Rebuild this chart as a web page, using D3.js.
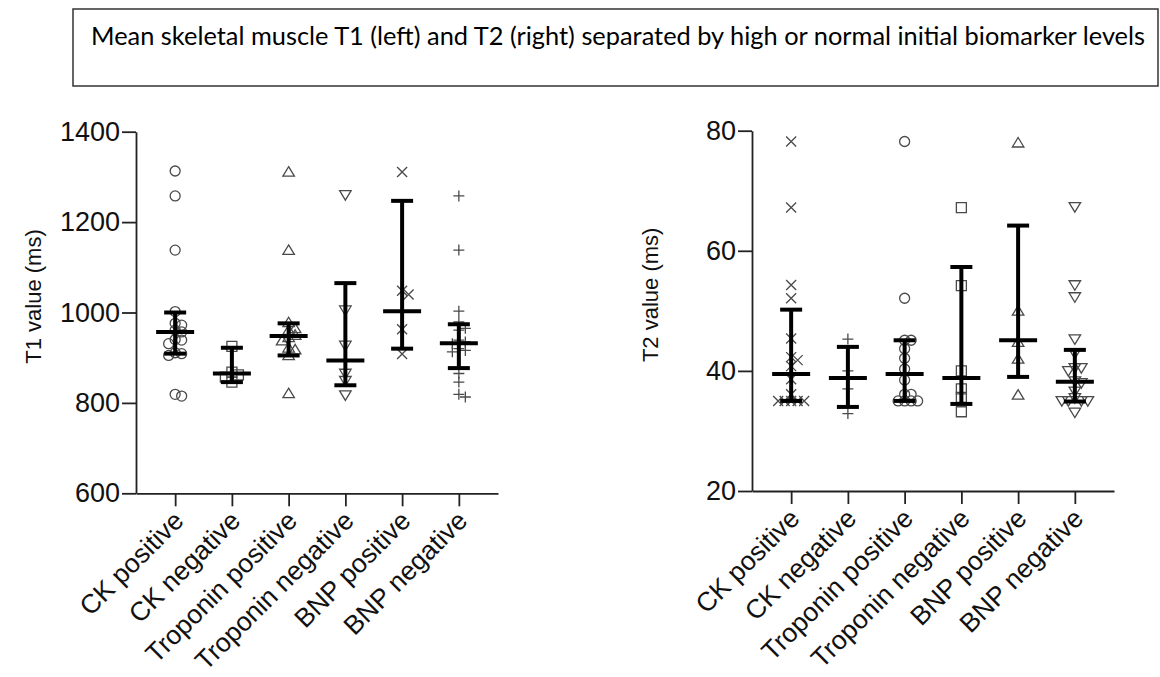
<!DOCTYPE html>
<html>
<head>
<meta charset="utf-8">
<script src="https://cdn.jsdelivr.net/npm/d3@7/dist/d3.min.js"></script>
<style>
  html, body { margin: 0; padding: 0; background: #fff; }
  svg { display: block; }
</style>
</head>
<body>
<svg id="chart" width="1160" height="677"></svg>
<script>
// Group labels shared by both panels
const categories = ["CK positive", "CK negative", "Troponin positive", "Troponin negative", "BNP positive", "BNP negative"];

// T1 (ms) per patient, by group
const t1CkPositive = [1313, 1258, 1138, 1002, 976, 972, 961, 957, 940, 939, 931, 911, 909, 905, 819, 815];
const t1CkNegative = [925, 868, 862, 857, 846];
const t1TroponinPositive = [1311, 1138, 978, 965, 961, 950, 945, 938, 922, 918, 905, 821];
const t1TroponinNegative = [1260, 1005, 927, 865, 849, 817];
const t1BnpPositive = [1311, 1048, 1040, 963, 908];
const t1BnpNegative = [1258, 1138, 1003, 979, 965, 961, 939, 935, 931, 920, 916, 913, 865, 846, 819, 813];

// T1 summary line and whiskers
const t1Center = [957, 865, 948, 894, 1003, 932];
const t1Low = [909, 846, 905, 839, 920, 877];
const t1High = [1000, 922, 976, 1065, 1247, 974];
const t1Ticks = [600, 800, 1000, 1200, 1400];

// T2 (ms) per patient, by group
const t2CkPositive = [78.2, 67.2, 54.3, 52.1, 45.4, 42.3, 41.8, 40.8, 38.6, 36.1, 35, 35, 35, 35, 35];
const t2CkNegative = [45.3, 40, 38.8, 37, 32.9];
const t2TroponinPositive = [78.2, 52.1, 45.1, 45.1, 43.7, 42.1, 40.3, 38.5, 36.1, 36.1, 35, 35, 35, 35];
const t2TroponinNegative = [67.2, 54.2, 40, 37, 35.6, 33.2];
const t2BnpPositive = [78, 50, 44.8, 42, 36];
const t2BnpNegative = [67.3, 54.3, 52.3, 45.3, 42.9, 40.5, 40.5, 40, 38.3, 38, 36.6, 35.5, 35, 35, 35, 35, 33.1];

// T2 summary line and whiskers
const t2Center = [39.5, 38.8, 39.5, 38.8, 45.1, 38.2];
const t2Low = [35, 34, 35, 34.5, 39, 34.9];
const t2High = [50.2, 44, 45.1, 57.3, 64.2, 43.5];
const t2Ticks = [20, 40, 60, 80];

const titleText = "Mean skeletal muscle T1 (left) and T2 (right) separated by high or normal initial biomarker levels";

// ---- marker shapes (size = half width in px) ----
const shapes = {
  circle: { draw(ctx, s) { ctx.moveTo(s, 0); ctx.arc(0, 0, s, 0, 2 * Math.PI); } },
  square: { draw(ctx, s) { ctx.rect(-s, -s, 2 * s, 2 * s); } },
  triangleUp: { draw(ctx, s) {
    const w = s * 1.15, h = s * 1.9;
    ctx.moveTo(0, -h * 0.55); ctx.lineTo(w, h * 0.45); ctx.lineTo(-w, h * 0.45); ctx.closePath(); } },
  triangleDown: { draw(ctx, s) {
    const w = s * 1.15, h = s * 1.9;
    ctx.moveTo(0, h * 0.55); ctx.lineTo(w, -h * 0.45); ctx.lineTo(-w, -h * 0.45); ctx.closePath(); } },
  times: { draw(ctx, s) {
    ctx.moveTo(-s, -s); ctx.lineTo(s, s); ctx.moveTo(s, -s); ctx.lineTo(-s, s); } },
  plus: { draw(ctx, s) {
    const a = s * 1.1;
    ctx.moveTo(-a, 0); ctx.lineTo(a, 0); ctx.moveTo(0, -a); ctx.lineTo(0, a); } }
};

const svg = d3.select("#chart");
const FONT = "'Liberation Sans', Arial, Helvetica, sans-serif";

// ---- title box ----
svg.append("rect")
  .attr("x", 73).attr("y", 9).attr("width", 1085).attr("height", 77)
  .attr("fill", "none").attr("stroke", "#333").attr("stroke-width", 1.5);
svg.append("text")
  .attr("x", 91).attr("y", 45)
  .attr("font-family", "Lato, 'Open Sans', sans-serif")
  .attr("font-size", 25)
  .attr("fill", "#000")
  .attr("textLength", 1054)
  .attr("lengthAdjust", "spacingAndGlyphs")
  .text(titleText);

// Horizontal dodge so that overlapping markers spread out sideways
function swarmOffsets(pixelYs, step, minDist) {
  const order = d3.range(pixelYs.length).sort((a, b) => pixelYs[a] - pixelYs[b]);
  const placed = [];
  const offsets = new Array(pixelYs.length).fill(0);
  order.forEach(i => {
    const py = pixelYs[i];
    for (let k = 0; k < 40; k++) {
      const off = k === 0 ? 0 : (k % 2 ? 1 : -1) * Math.ceil(k / 2) * step;
      const hit = placed.some(p => Math.hypot(off - p.dx, py - p.y) < minDist);
      if (!hit) { offsets[i] = off; placed.push({ dx: off, y: py }); break; }
    }
  });
  return offsets;
}

function drawPanel(cfg) {
  const g = svg.append("g");
  const x = d3.scalePoint().domain(categories).range([cfg.x0, cfg.x1]).padding(0.69);
  const y = d3.scaleLinear().domain(cfg.domain).range([cfg.yBottom, cfg.yTop]);

  // y axis
  const yAxis = g.append("g")
    .attr("transform", `translate(${cfg.x0},0)`)
    .call(d3.axisLeft(y).tickValues(cfg.ticks).tickSize(14).tickSizeOuter(0).tickPadding(2).tickFormat(d3.format("d")));
  // x axis
  const xAxis = g.append("g")
    .attr("transform", `translate(0,${cfg.yBottom})`)
    .call(d3.axisBottom(x).tickSize(13).tickSizeOuter(0).tickFormat(""));

  [yAxis, xAxis].forEach(a => {
    a.selectAll("path.domain").attr("stroke", "#222").attr("stroke-width", 1.8);
    a.selectAll(".tick line").attr("stroke", "#222").attr("stroke-width", 1.8);
  });
  yAxis.selectAll(".tick text")
    .attr("font-family", FONT).attr("font-size", 27).attr("fill", "#111");

  // rotated category labels
  g.selectAll("text.cat").data(categories).join("text")
    .attr("class", "cat")
    .attr("transform", d => `translate(${x(d) + 10},${cfg.yBottom + 29}) rotate(-45)`)
    .attr("text-anchor", "end")
    .attr("font-family", FONT).attr("font-size", 26.5).attr("fill", "#111")
    .text(d => d);

  // y axis title
  g.append("text")
    .attr("transform", `translate(${cfg.labelX},${(cfg.yTop + cfg.yBottom) / 2 - 16}) rotate(-90)`)
    .attr("text-anchor", "middle")
    .attr("font-family", FONT).attr("font-size", 22).attr("fill", "#111")
    .text(cfg.yTitle);

  // individual values
  cfg.series.forEach((vals, i) => {
    const cx = x(categories[i]);
    const pys = vals.map(v => y(v));
    const offs = swarmOffsets(pys, 6.5, 6.5);
    const sym = d3.symbol().type(shapes[cfg.shapes[i]]).size(5);
    g.append("g").selectAll("path").data(vals).join("path")
      .attr("transform", (v, j) => `translate(${cx + offs[j]},${pys[j]})`)
      .attr("d", sym)
      .attr("fill", "none")
      .attr("stroke", "#4a4a4a")
      .attr("stroke-width", 1.3);
  });

  // centre line with whiskers
  categories.forEach((c, i) => {
    const cx = x(c);
    const eg = g.append("g").attr("stroke", "#000").attr("stroke-width", 4).attr("fill", "none");
    eg.append("line").attr("x1", cx).attr("x2", cx).attr("y1", y(cfg.high[i])).attr("y2", y(cfg.low[i]));
    eg.append("line").attr("x1", cx - 11).attr("x2", cx + 11).attr("y1", y(cfg.high[i])).attr("y2", y(cfg.high[i]));
    eg.append("line").attr("x1", cx - 11).attr("x2", cx + 11).attr("y1", y(cfg.low[i])).attr("y2", y(cfg.low[i]));
    eg.append("line").attr("x1", cx - 19).attr("x2", cx + 19).attr("y1", y(cfg.center[i])).attr("y2", y(cfg.center[i]));
  });
}

drawPanel({
  x0: 136, x1: 498, yTop: 131.7, yBottom: 493.3,
  domain: [600, 1400], ticks: t1Ticks,
  labelX: 41, yTitle: "T1 value (ms)",
  series: [t1CkPositive, t1CkNegative, t1TroponinPositive, t1TroponinNegative, t1BnpPositive, t1BnpNegative],
  shapes: ["circle", "square", "triangleUp", "triangleDown", "times", "plus"],
  center: t1Center, low: t1Low, high: t1High
});

drawPanel({
  x0: 752, x1: 1114, yTop: 130.7, yBottom: 491,
  domain: [20, 80], ticks: t2Ticks,
  labelX: 658, yTitle: "T2 value (ms)",
  series: [t2CkPositive, t2CkNegative, t2TroponinPositive, t2TroponinNegative, t2BnpPositive, t2BnpNegative],
  shapes: ["times", "plus", "circle", "square", "triangleUp", "triangleDown"],
  center: t2Center, low: t2Low, high: t2High
});
</script>
</body>
</html>
